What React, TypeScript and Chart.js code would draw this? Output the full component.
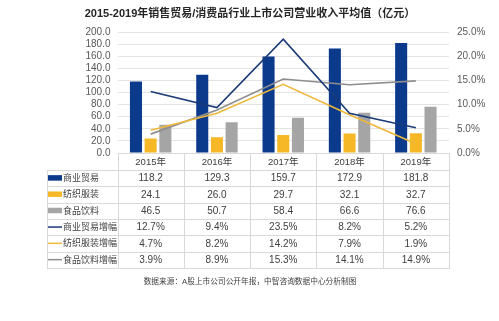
import React, { useEffect, useRef } from "react";
import { Chart, registerables } from "chart.js";

Chart.register(...registerables);

const TITLE = "2015-2019年销售贸易/消费品行业上市公司营业收入平均值（亿元）";
const SOURCE = "数据来源：A股上市公司公开年报，中智咨询数据中心分析制图";
const YEARS = ["2015年", "2016年", "2017年", "2018年", "2019年"];

const BAR_NAMES = ["商业贸易", "纺织服装", "食品饮料"];
const tradeRevenue = [118.2, 129.3, 159.7, 172.9, 181.8];
const textileRevenue = [24.1, 26.0, 29.7, 32.1, 32.7];
const foodRevenue = [46.5, 50.7, 58.4, 66.6, 76.6];

const LINE_NAMES = ["商业贸易增幅", "纺织服装增幅", "食品饮料增幅"];
const tradeGrowth = [12.7, 9.4, 23.5, 8.2, 5.2];
const textileGrowth = [4.7, 8.2, 14.2, 7.9, 1.9];
const foodGrowth = [3.9, 8.9, 15.3, 14.1, 14.9];

const LEFT_MAX = 200;
const LEFT_STEP = 20;
const RIGHT_MAX = 25;
const RIGHT_STEP = 5;

const BAR_COLORS = ["#0B3A8C", "#F6B827", "#A5A5A5"];
const LINE_COLORS = ["#1A3A78", "#EFB83A", "#8E8E8E"];
const GRID = "#E3E3E3";
const BORDER = "#D9D9D9";
const TEXT = "#404040";
const FONT = '"Liberation Sans", "Noto Sans CJK SC", sans-serif';

const W = 499;
const H = 321;
const AREA = { left: 117.5, right: 449, top: 32, bottom: 153 };
const TABLE_LEFT = 47;
const HEADER_H = 17;
const ROW_H = 16.3;

const tablePlugin = {
  id: "dataTable",
  afterDraw(chart: any) {
    const ctx = chart.ctx;
    const x = chart.scales.x;
    const n = YEARS.length;
    const colW = (chart.chartArea.right - chart.chartArea.left) / n;
    const top = chart.chartArea.bottom;
    const rows = [
      ...[tradeRevenue, textileRevenue, foodRevenue].map((d, i) => ({
        name: BAR_NAMES[i], vals: d.map((v) => v.toFixed(1)), color: BAR_COLORS[i], bar: true,
      })),
      ...[tradeGrowth, textileGrowth, foodGrowth].map((d, i) => ({
        name: LINE_NAMES[i], vals: d.map((v) => v.toFixed(1) + "%"), color: LINE_COLORS[i], bar: false,
      })),
    ];
    const firstRowTop = top + HEADER_H;
    const bottom = firstRowTop + rows.length * ROW_H;
    const left = chart.chartArea.left;
    const right = chart.chartArea.right;

    ctx.save();
    ctx.strokeStyle = BORDER;
    ctx.lineWidth = 1;
    ctx.beginPath();
    ctx.moveTo(left, Math.round(top) + 0.5);
    ctx.lineTo(right, Math.round(top) + 0.5);
    for (let r = 0; r <= rows.length; r++) {
      const yy = Math.round(firstRowTop + r * ROW_H) + 0.5;
      ctx.moveTo(TABLE_LEFT, yy);
      ctx.lineTo(right, yy);
    }
    ctx.moveTo(TABLE_LEFT + 0.5, Math.round(firstRowTop));
    ctx.lineTo(TABLE_LEFT + 0.5, Math.round(bottom) + 1);
    for (let c = 0; c <= n; c++) {
      const xx = Math.round(left + c * colW) + 0.5;
      ctx.moveTo(xx, Math.round(top));
      ctx.lineTo(xx, Math.round(bottom) + 1);
    }
    ctx.stroke();

    ctx.fillStyle = TEXT;
    ctx.textAlign = "center";
    ctx.textBaseline = "middle";
    ctx.font = `9.5px ${FONT}`;
    YEARS.forEach((yr, i) => {
      ctx.fillText(yr, x.getPixelForValue(i), top + HEADER_H / 2 + 0.5);
    });

    rows.forEach((row, r) => {
      const cy = firstRowTop + r * ROW_H + ROW_H / 2;
      ctx.font = `10px ${FONT}`;
      ctx.fillStyle = TEXT;
      ctx.textAlign = "center";
      row.vals.forEach((v, i) => {
        ctx.fillText(v, x.getPixelForValue(i), cy + 0.5);
      });
      if (row.bar) {
        ctx.fillStyle = row.color;
        ctx.fillRect(48, cy - 3, 14, 5.5);
      } else {
        ctx.strokeStyle = row.color;
        ctx.lineWidth = 1.5;
        ctx.beginPath();
        ctx.moveTo(48, cy);
        ctx.lineTo(62, cy);
        ctx.stroke();
      }
      ctx.fillStyle = TEXT;
      ctx.textAlign = "left";
      ctx.font = `9px ${FONT}`;
      ctx.fillText(row.name, 63, cy + 0.5);
    });

    ctx.fillStyle = "#262626";
    ctx.textAlign = "center";
    ctx.font = `bold 11px ${FONT}`;
    ctx.fillText(TITLE, 250, 14);

    ctx.fillStyle = TEXT;
    ctx.font = `7.7px ${FONT}`;
    ctx.fillText(SOURCE, 250, 282);
    ctx.restore();
  },
};

export default function App() {
  const ref = useRef<HTMLCanvasElement>(null);

  useEffect(() => {
    if (!ref.current) return;
    const lineDs = [tradeGrowth, textileGrowth, foodGrowth].map((d, i) => ({
      type: "line" as const,
      label: LINE_NAMES[i],
      data: d,
      yAxisID: "y1",
      borderColor: LINE_COLORS[i],
      backgroundColor: LINE_COLORS[i],
      borderWidth: 1.6,
      pointRadius: 0,
      tension: 0,
      order: 0,
    }));
    const barDs = [tradeRevenue, textileRevenue, foodRevenue].map((d, i) => ({
      type: "bar" as const,
      label: BAR_NAMES[i],
      data: d,
      yAxisID: "y",
      backgroundColor: BAR_COLORS[i],
      categoryPercentage: 0.665,
      barPercentage: 0.82,
      order: 1,
    }));
    const chart = new Chart(ref.current, {
      type: "bar",
      data: { labels: YEARS, datasets: [...lineDs, ...barDs] as any },
      plugins: [tablePlugin],
      options: {
        animation: false,
        responsive: false,
        layout: {
          padding: { left: 0, right: 0, top: AREA.top, bottom: H - AREA.bottom },
        },
        plugins: { legend: { display: false }, tooltip: { enabled: false }, title: { display: false } },
        scales: {
          x: { type: "category", display: false, offset: true, grid: { display: false } },
          y: {
            position: "left",
            min: 0,
            max: LEFT_MAX,
            ticks: {
              stepSize: LEFT_STEP,
              autoSkip: false,
              padding: 7,
              color: "#595959",
              font: { family: FONT, size: 10 },
              callback: (v: any) => Number(v).toFixed(1),
            },
            grid: { color: GRID, drawTicks: false },
            border: { display: false },
            afterFit: (s: any) => { s.width = AREA.left; },
          },
          y1: {
            position: "right",
            min: 0,
            max: RIGHT_MAX,
            ticks: {
              stepSize: RIGHT_STEP,
              autoSkip: false,
              padding: 8,
              color: "#595959",
              font: { family: FONT, size: 10 },
              callback: (v: any) => Number(v).toFixed(1) + "%",
            },
            grid: { display: false, drawTicks: false },
            border: { display: false },
            afterFit: (s: any) => { s.width = W - AREA.right; },
          },
        },
      } as any,
    });
    return () => chart.destroy();
  }, []);

  return (
    <div style={{ position: "fixed", left: 0, top: 0, width: W, height: H, background: "#fff" }}>
      <canvas ref={ref} width={W} height={H} style={{ display: "block" }} />
    </div>
  );
}
